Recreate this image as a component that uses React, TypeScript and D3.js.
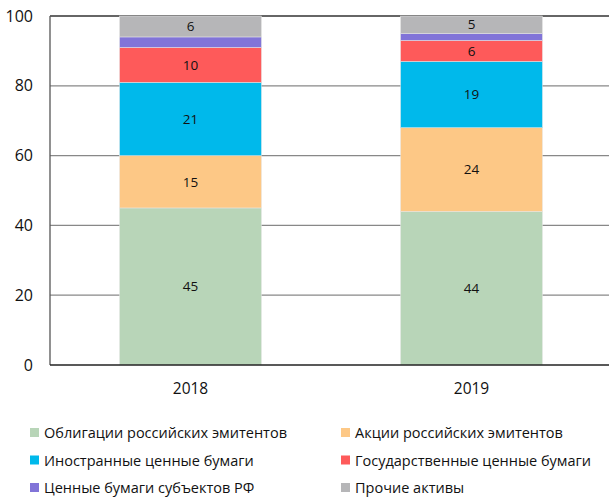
import React, { useEffect, useRef } from 'react';
import * as d3 from 'd3';

const years = ['2018', '2019'];
const seriesNames = [
  'Облигации российских эмитентов',
  'Акции российских эмитентов',
  'Иностранные ценные бумаги',
  'Государственные ценные бумаги',
  'Ценные бумаги субъектов РФ',
  'Прочие активы',
];
const seriesColors = ['#b8d5b8', '#fdc886', '#00b9eb', '#fe5a5a', '#8174d8', '#b6b6b8'];
const values2018 = [45, 15, 21, 10, 3, 6];
const values2019 = [44, 24, 19, 6, 2, 5];
const showLabel = [true, true, true, true, false, true];
const yTicks = [0, 20, 40, 60, 80, 100];

const W = 609;
const H = 498;
const FONT = "'Open Sans', sans-serif";

const App: React.FC = () => {
  const svgRef = useRef<SVGSVGElement>(null);

  useEffect(() => {
    if (!svgRef.current) return;
    const svg = d3.select(svgRef.current);
    svg.selectAll('*').remove();

    const left = 50;
    const right = 612;
    const top = 16;
    const bottom = 365;

    const x = d3.scaleBand<string>().domain(years).range([left, right]).paddingInner(0.495).paddingOuter(0.2475);
    const y = d3.scaleLinear().domain([0, 100]).range([bottom, top]);

    // gridlines
    svg.append('g')
      .selectAll('line')
      .data(yTicks.filter(t => t > 0))
      .enter().append('line')
      .attr('x1', left).attr('x2', W)
      .attr('y1', d => y(d)).attr('y2', d => y(d))
      .attr('stroke', d => (d === 100 ? '#333' : '#888'))
      .attr('stroke-width', 1.3);

    // stacked bars
    const rows = years.map((yr, i) => {
      const vals = i === 0 ? values2018 : values2019;
      const r: any = { year: yr };
      vals.forEach((v, k) => (r[k] = v));
      return r;
    });
    const stack = d3.stack<any>().keys(seriesNames.map((_, k) => String(k)));
    const layers = stack(rows);

    layers.forEach((layer, k) => {
      const g = svg.append('g');
      g.selectAll('rect')
        .data(layer)
        .enter().append('rect')
        .attr('x', d => x(d.data.year)!)
        .attr('width', x.bandwidth())
        .attr('y', d => y(d[1]))
        .attr('height', d => y(d[0]) - y(d[1]))
        .attr('fill', seriesColors[k])
        .attr('stroke', '#e6e6e6')
        .attr('stroke-width', 0.5);
      if (showLabel[k]) {
        g.selectAll('text')
          .data(layer)
          .enter().append('text')
          .attr('x', d => x(d.data.year)! + x.bandwidth() / 2)
          .attr('y', d => (y(d[0]) + y(d[1])) / 2)
          .attr('dy', '0.35em')
          .attr('text-anchor', 'middle')
          .attr('font-family', FONT)
          .attr('font-size', 13.5)
          .attr('fill', '#111')
          .text(d => String(d[1] - d[0]));
      }
    });

    // axes lines
    svg.append('line')
      .attr('x1', left).attr('x2', left).attr('y1', top).attr('y2', bottom)
      .attr('stroke', '#555').attr('stroke-width', 1.3);
    svg.append('line')
      .attr('x1', left).attr('x2', W).attr('y1', bottom).attr('y2', bottom)
      .attr('stroke', '#222').attr('stroke-width', 1.5);

    // y tick labels
    svg.append('g')
      .selectAll('text')
      .data(yTicks)
      .enter().append('text')
      .attr('x', 33)
      .attr('y', d => y(d))
      .attr('dy', '0.35em')
      .attr('text-anchor', 'end')
      .attr('font-family', FONT)
      .attr('font-size', 16)
      .attr('fill', '#111')
      .text(d => String(d));

    // x labels
    svg.append('g')
      .selectAll('text')
      .data(years)
      .enter().append('text')
      .attr('x', d => x(d)! + x.bandwidth() / 2)
      .attr('y', 389)
      .attr('dy', '0.35em')
      .attr('text-anchor', 'middle')
      .attr('font-family', FONT)
      .attr('font-size', 15.5)
      .attr('fill', '#111')
      .text(d => d);

    // legend
    const legend = svg.append('g');
    seriesNames.forEach((name, k) => {
      const col = k % 2;
      const row = Math.floor(k / 2);
      const lx = col === 0 ? 30 : 341;
      const ly = 433 + row * 27.5;
      legend.append('rect')
        .attr('x', lx).attr('y', ly - 5).attr('width', 9).attr('height', 9)
        .attr('fill', seriesColors[k]);
      legend.append('text')
        .attr('x', lx + 14).attr('y', ly)
        .attr('dy', '0.35em')
        .attr('font-family', FONT)
        .attr('font-size', 14.5)
        .attr('fill', '#111')
        .text(name);
    });
  }, []);

  return (
    <div style={{ position: 'absolute', left: 0, top: 0 }}>
      <svg ref={svgRef} width={W} height={H} style={{ display: 'block', background: '#fff' }} />
    </div>
  );
};

export default App;
